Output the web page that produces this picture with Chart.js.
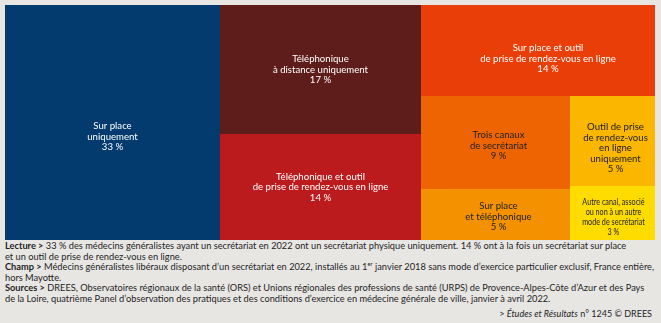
<!DOCTYPE html>
<html lang="fr">
<head>
<meta charset="utf-8">
<script src="https://cdn.jsdelivr.net/npm/chart.js@4.4.0/dist/chart.umd.min.js"></script>
<style>
  html, body { margin: 0; padding: 0; background: #e8e6e3; width: 661px; height: 323px; overflow: hidden; font-family: Lato, sans-serif; }
  #wrap { position: absolute; left: 5px; top: 5px; width: 650px; height: 235px; }
  #notes { position: absolute; left: 5px; top: 241px; font-size: 9.25px; line-height: 10.6px; color: #1e1e1e; white-space: nowrap; }
  #notes b { font-weight: 700; }
  #notes sup { font-size: 5.8px; line-height: 0; }
  #credit { position: absolute; right: 9px; top: 309px; font-size: 9px; line-height: 10px; color: #1e1e1e; white-space: nowrap; }
</style>
</head>
<body>
<div id="wrap"><canvas id="treemap"></canvas></div>
<div id="notes">
  <b>Lecture &gt;</b> 33 % des médecins généralistes ayant un secrétariat en 2022 ont un secrétariat physique uniquement. 14 % ont à la fois un secrétariat sur place<br>
  et un outil de prise de rendez-vous en ligne.<br>
  <b>Champ &gt;</b> Médecins généralistes libéraux disposant d’un secrétariat en 2022, installés au 1<sup>er</sup> janvier 2018 sans mode d’exercice particulier exclusif, France entière,<br>
  hors Mayotte.<br>
  <b>Sources &gt;</b> DREES, Observatoires régionaux de la santé (ORS) et Unions régionales des professions de santé (URPS) de Provence-Alpes-Côte d’Azur et des Pays<br>
  de la Loire, quatrième Panel d’observation des pratiques et des conditions d’exercice en médecine générale de ville, janvier à avril 2022.
</div>
<div id="credit">&gt; <i>Études et Résultats</i> n° 1245 © DREES</div>
<script>
// Secretariat modes (labels split in lines as printed)
const categories = [
  ['Sur place', 'uniquement'],
  ['Téléphonique', 'à distance uniquement'],
  ['Téléphonique et outil', 'de prise de rendez-vous en ligne'],
  ['Sur place et outil', 'de prise de rendez-vous en ligne'],
  ['Trois canaux', 'de secrétariat'],
  ['Outil de prise', 'de rendez-vous', 'en ligne', 'uniquement'],
  ['Sur place', 'et téléphonique'],
  ['Autre canal, associé', 'ou non à un autre', 'mode de secrétariat']
];
const shares = [33, 17, 14, 14, 9, 5, 5, 3];

const cellColors = ['#033b6e', '#5e1d1b', '#bb1b1d', '#ea3e08', '#ee6402', '#fbb600', '#f39100', '#ffdc00'];
const textColors = ['#ffffff', '#ffffff', '#ffffff', '#ffffff', '#222222', '#222222', '#222222', '#222222'];
// label nudges in px [dx, dy]
const labelShift = [[0, 14], [0, 0], [0, 0], [10, 8], [3, 3], [3, 7], [3, 2], [1, 4]];

// how the cells are nested: 'h' splits left to right, 'v' top to bottom
const layoutTree = {
  dir: 'h', children: [
    0,
    { dir: 'v', children: [1, 2] },
    { dir: 'v', children: [3, { dir: 'h', children: [{ dir: 'v', children: [4, 6] }, { dir: 'v', children: [5, 7] }] }] }
  ]
};

function sumOf(node) {
  if (typeof node === 'number') return shares[node];
  return node.children.reduce((s, c) => s + sumOf(c), 0);
}

function slice(node, x0, y0, x1, y1, out) {
  if (typeof node === 'number') {
    out[node] = { x0, y0, x1, y1 };
    return;
  }
  const total = sumOf(node);
  let pos = node.dir === 'h' ? x0 : y0;
  node.children.forEach(c => {
    const span = (node.dir === 'h' ? x1 - x0 : y1 - y0) * sumOf(c) / total;
    if (node.dir === 'h') slice(c, pos, y0, pos + span, y1, out);
    else slice(c, x0, pos, x1, pos + span, out);
    pos += span;
  });
}

const treemapPlugin = {
  id: 'treemapCells',
  beforeDatasetsDraw(chart) {
    const { ctx, scales: { x, y } } = chart;
    const rects = [];
    slice(layoutTree, 0, 0, 1, 1, rects);

    rects.forEach((r, i) => {
      const left = Math.round(x.getPixelForValue(r.x0));
      const right = Math.round(x.getPixelForValue(r.x1));
      const top = Math.round(y.getPixelForValue(r.y0));
      const bottom = Math.round(y.getPixelForValue(r.y1));
      ctx.save();
      ctx.fillStyle = cellColors[i];
      ctx.fillRect(left, top, right - left, bottom - top);

      // label
      const lines = categories[i].concat([shares[i] + ' %']);
      const small = i === 7;
      const lh = small ? 10 : 10.5;
      const cx = (left + right) / 2 + labelShift[i][0];
      const cy = (top + bottom) / 2 + labelShift[i][1];
      ctx.fillStyle = textColors[i];
      ctx.textAlign = 'center';
      ctx.textBaseline = 'middle';
      ctx.font = (small ? '8.8px' : '9.6px') + ' Lato, sans-serif';
      const startY = cy - (lines.length - 1) * lh / 2;
      lines.forEach((t, k) => {
        if (small) {
          ctx.save();
          ctx.translate(cx, startY + k * lh);
          ctx.scale(0.82, 1);
          ctx.fillText(t, 0, 0);
          ctx.restore();
        } else {
          ctx.fillText(t, cx, startY + k * lh);
        }
      });
      ctx.restore();
    });
  }
};

new Chart(document.getElementById('treemap').getContext('2d'), {
  type: 'scatter',
  data: { datasets: [{ data: [] }] },
  options: {
    responsive: true,
    maintainAspectRatio: false,
    animation: false,
    layout: { padding: 0 },
    plugins: { legend: { display: false }, tooltip: { enabled: false } },
    scales: {
      x: { type: 'linear', min: 0, max: 1, display: false },
      y: { type: 'linear', min: 0, max: 1, reverse: true, display: false }
    }
  },
  plugins: [treemapPlugin]
});
</script>
</body>
</html>
